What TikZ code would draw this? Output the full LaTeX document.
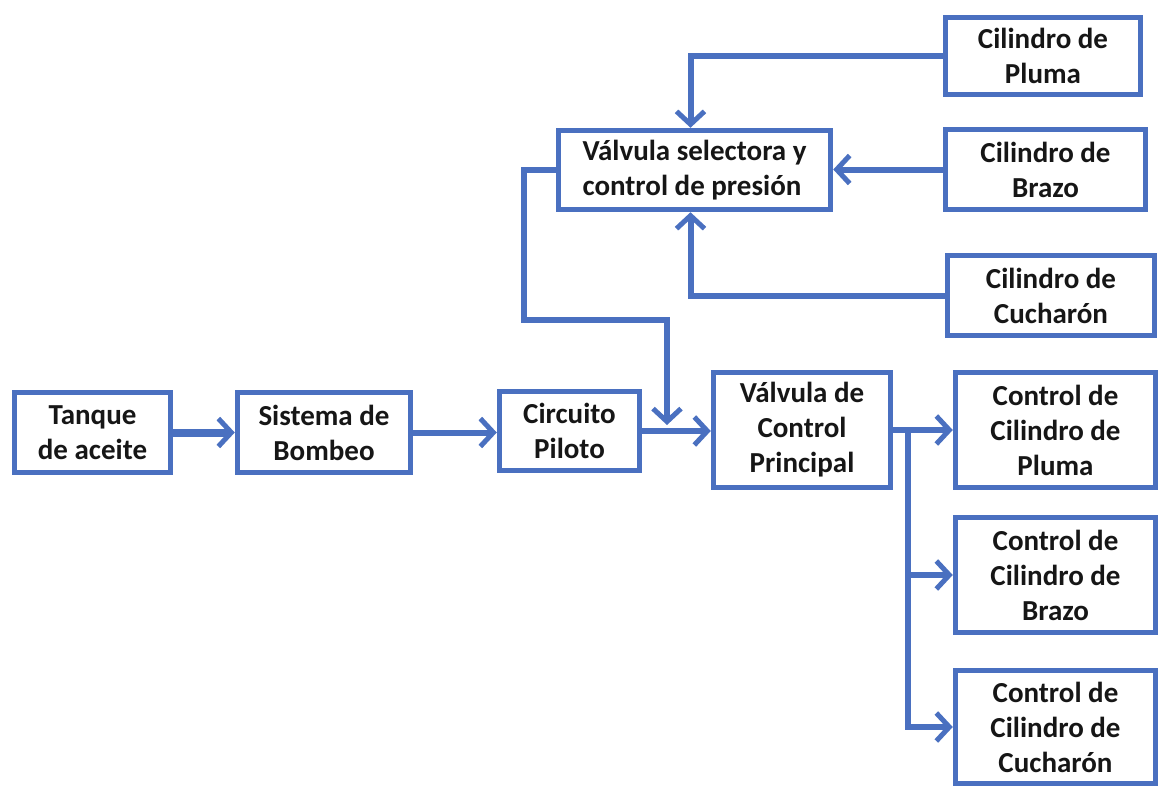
\documentclass[tikz,border=0pt]{standalone}
\usepackage{fontspec}
\setmainfont{Carlito}
\usetikzlibrary{arrows.meta}
\definecolor{flowblue}{RGB}{74,112,192}
\definecolor{inktext}{RGB}{22,22,22}
\begin{document}
\begin{tikzpicture}[x=1pt,y=-1pt,
  box/.style={draw=flowblue, line width=5.5pt, fill=white, rectangle, inner sep=0pt,
    align=center, text=inktext, font=\fontsize{29}{35}\selectfont\bfseries},
  flow/.style={draw=flowblue, line width=6pt,
    -{Straight Barb[length=13pt,width=28pt,line width=5pt]}},
  pipe/.style={draw=flowblue, line width=6pt}]
\useasboundingbox (0,0) rectangle (1162,787);

% main line
\node[box, minimum width=156pt, minimum height=80pt] (tanque) at (92.5,432.5) {Tanque\\de aceite};
\node[box, minimum width=173pt, minimum height=80pt] (sistema) at (324,432.5) {Sistema de\\Bombeo};
\node[box, minimum width=140pt, minimum height=79pt] (circuito) at (569.5,431) {Circuito\\Piloto};
\node[box, minimum width=177pt, minimum height=115pt] (vcp) at (802,430) {Válvula de\\Control\\Principal};

% selector valve and cylinders
\node[box, minimum width=272pt, minimum height=79pt, align=left] (selectora) at (694.5,170) {Válvula selectora y\\control de presión};
\node[box, minimum width=195pt, minimum height=77pt] (cpluma) at (1043,56) {Cilindro de\\Pluma};
\node[box, minimum width=200pt, minimum height=80pt] (cbrazo) at (1045.5,169.5) {Cilindro de\\Brazo};
\node[box, minimum width=207pt, minimum height=80pt] (ccuch) at (1051,295.5) {Cilindro de\\Cucharón};

% cylinder controls
\node[box, minimum width=200pt, minimum height=115pt] (ctlpluma) at (1055.5,430) {Control de\\Cilindro de\\Pluma};
\node[box, minimum width=200pt, minimum height=115pt] (ctlbrazo) at (1055.5,575) {Control de\\Cilindro de\\Brazo};
\node[box, minimum width=200pt, minimum height=113pt] (ctlcuch) at (1055.5,727) {Control de\\Cilindro de\\Cucharón};

% helper points
\coordinate (pj) at (667,425);
\coordinate (pa) at (524,170);
\coordinate (pb) at (524,320);
\coordinate (pc) at (667,320);
\coordinate (split) at (908,430);

% connectors
\draw[flow, line width=8pt] (tanque.east) -- (sistema.west);
\draw[flow] (sistema.east) -- (sistema.east -| circuito.west);
\draw[flow] (circuito.east) -- (circuito.east -| vcp.west);
\draw[flow] (selectora.west) -- (pa) -- (pb) -- (pc) -- (pj);

\draw[flow] (cpluma.west) -| ([xshift=-4pt]selectora.north);
\draw[flow] (cbrazo.west) -- (cbrazo.west -| selectora.east);
\draw[flow] (ccuch.west) -| ([xshift=-4pt]selectora.south);

\draw[flow] (vcp.east) -- (ctlpluma.west);
\draw[flow] (split) |- (ctlbrazo.west);
\draw[flow] (split) |- (ctlcuch.west);
\end{tikzpicture}
\end{document}
